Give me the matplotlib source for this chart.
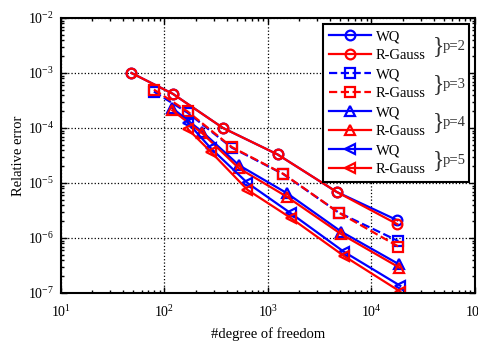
import numpy as np
import matplotlib.pyplot as plt

plt.rcParams['font.family'] = ['Liberation Serif', 'DejaVu Serif']
plt.rcParams['mathtext.fontset'] = 'stix'

# data
dof_p2 = [48, 120, 368, 1240, 4600, 17800]
wq_p2 = [1.0e-3, 4.2e-4, 1.0e-4, 3.3e-5, 6.9e-6, 2.1e-6]
rg_p2 = [1.0e-3, 4.2e-4, 1.0e-4, 3.3e-5, 6.9e-6, 1.78e-6]

dof_p3 = [79, 167, 447, 1410, 4820, 18200]
wq_p3 = [4.6e-4, 1.9e-4, 4.4e-5, 1.45e-5, 2.9e-6, 8.8e-7]
rg_p3 = [5.0e-4, 2.0e-4, 4.5e-5, 1.46e-5, 2.9e-6, 7.0e-7]

dof_p4 = [119, 232, 525, 1530, 5120, 18600]
wq_p4 = [2.3e-4, 8.5e-5, 2.1e-5, 6.5e-6, 1.3e-6, 3.3e-7]
rg_p4 = [2.1e-4, 8.0e-5, 1.85e-5, 5.6e-6, 1.17e-6, 2.9e-7]

dof_p5 = [168, 280, 634, 1670, 5430, 19000]
wq_p5 = [1.25e-4, 4.3e-5, 1.0e-5, 2.8e-6, 5.6e-7, 1.35e-7]
rg_p5 = [9.6e-5, 3.7e-5, 7.5e-6, 2.3e-6, 4.7e-7, 1.06e-7]

orders = ["p=2", "p=3", "p=4", "p=5"]
markers = ["o", "s", "^", "<"]
styles = ["-", "--", "-", "-"]

series = [
    (dof_p2, wq_p2, rg_p2),
    (dof_p3, wq_p3, rg_p3),
    (dof_p4, wq_p4, rg_p4),
    (dof_p5, wq_p5, rg_p5),
]

fig = plt.figure(figsize=(4.78, 3.43), dpi=100)
ax = fig.add_axes([0.1276, 0.1458, 0.866, 0.8017])

for (dof, wq, rg), m, ls in zip(series, markers, styles):
    ax.plot(dof, wq, color="blue", linestyle=ls, marker=m, markersize=7,
            markerfacecolor="none", markeredgewidth=1.6, linewidth=1.6, label="WQ")
    ax.plot(dof, rg, color="red", linestyle=ls, marker=m, markersize=7,
            markerfacecolor="none", markeredgewidth=1.6, linewidth=1.6, label="R-Gauss")

ax.set_xscale("log")
ax.set_yscale("log")
ax.set_xlim(1e1, 1e5)
ax.set_ylim(1e-7, 1e-2)
ax.set_xticks([1e1, 1e2, 1e3, 1e4, 1e5])
ax.set_yticks([1e-7, 1e-6, 1e-5, 1e-4, 1e-3, 1e-2])

ax.grid(True, which="major", linestyle=":", color="black", linewidth=0.9)
ax.tick_params(which="both", direction="in", top=True, right=True, labelsize=10,
               colors="black", width=1.0)
ax.tick_params(which="major", length=4)
ax.tick_params(axis="x", which="major", pad=8)
ax.tick_params(axis="y", which="major", pad=5)
ax.tick_params(which="minor", length=2.5)
for s in ax.spines.values():
    s.set_linewidth(1.5)

ax.set_xlabel("#degree of freedom", fontsize=10.5, labelpad=5)
ax.set_ylabel("Relative error", fontsize=10.5, labelpad=2)

leg = ax.legend(loc="upper left", bbox_to_anchor=(0.633, 0.0, 0.352, 0.978),
                mode="expand", fontsize=10.5, frameon=True, fancybox=False,
                framealpha=1, edgecolor="black", handlelength=2.9,
                handletextpad=0.3, labelspacing=0.4, borderpad=0.4,
                borderaxespad=0.0)
leg.get_frame().set_linewidth(1.5)

# braces grouping each pair of legend entries
fig.canvas.draw()
inv = ax.transAxes.inverted()
texts = leg.get_texts()
fb = leg.get_frame().get_window_extent()
for k, lab in enumerate(orders):
    e1 = texts[2 * k].get_window_extent()
    e2 = texts[2 * k + 1].get_window_extent()
    ymid = (e1.y0 + e1.y1 + e2.y0 + e2.y1) / 4
    x_ax, y_ax = inv.transform((fb.x1 - 36, ymid))
    ax.text(x_ax, y_ax, "}", transform=ax.transAxes, fontsize=17,
            ha="left", va="center", color="#333333", zorder=10)
    x2, _ = inv.transform((fb.x1 - 26, ymid))
    ax.text(x2, y_ax, lab, transform=ax.transAxes, fontsize=10.5,
            ha="left", va="center", color="#333333", zorder=10)

fig.savefig("out.png", dpi=100)
plt.close(fig)
